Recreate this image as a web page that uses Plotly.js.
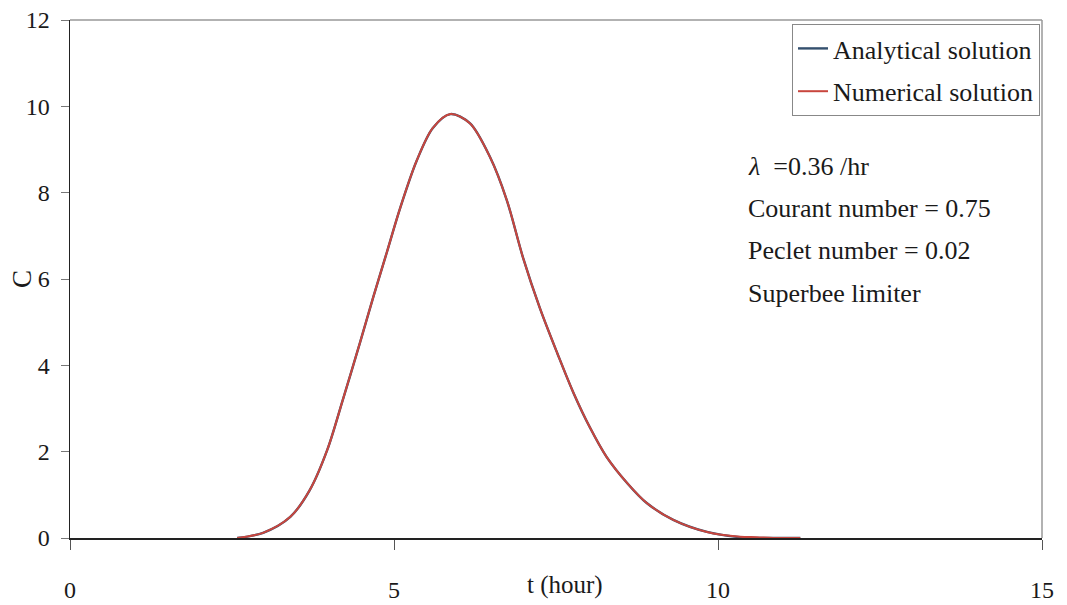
<!DOCTYPE html>
<html>
<head>
<meta charset="utf-8">
<script src="https://cdn.plot.ly/plotly-3.0.1.min.js"></script>
<style>html,body{margin:0;padding:0;background:#fff;}#chart{width:1067px;height:605px;}</style>
</head>
<body>
<div id="chart"></div>
<script>
// Time (hour) and concentration values
const tAnalytical = [2.58, 2.98, 3.40, 3.70, 3.97, 4.21, 4.48, 4.68, 4.89, 5.09, 5.35, 5.60, 5.87, 6.17, 6.48, 6.74, 6.99, 7.25, 7.52, 7.77, 8.02, 8.28, 8.60, 8.90, 9.31, 9.83, 10.34, 10.85, 11.27];
const cAnalytical = [0, 0.12, 0.49, 1.11, 2.04, 3.20, 4.55, 5.58, 6.62, 7.62, 8.74, 9.50, 9.82, 9.61, 8.83, 7.83, 6.50, 5.33, 4.28, 3.36, 2.57, 1.88, 1.27, 0.81, 0.42, 0.14, 0.02, 0, 0];
const tNumerical = [2.58, 2.98, 3.40, 3.70, 3.97, 4.21, 4.48, 4.68, 4.89, 5.09, 5.35, 5.60, 5.87, 6.17, 6.48, 6.74, 6.99, 7.25, 7.52, 7.77, 8.02, 8.28, 8.60, 8.90, 9.31, 9.83, 10.34, 10.60, 10.85, 11.27];
const cNumerical = [0, 0.12, 0.49, 1.11, 2.04, 3.20, 4.55, 5.58, 6.62, 7.62, 8.74, 9.50, 9.82, 9.61, 8.83, 7.83, 6.50, 5.33, 4.28, 3.36, 2.57, 1.88, 1.27, 0.81, 0.42, 0.14, 0.03, 0.02, 0, 0];
const seriesNames = ["Analytical solution", "Numerical solution"];
const xTicks = [0, 5, 10, 15];
const yTicks = [0, 2, 4, 6, 8, 10, 12];
const noteLines = ["<i>λ</i>  =0.36 /hr", "Courant number = 0.75", "Peclet number = 0.02", "Superbee limiter"];

const serif = "Liberation Serif, Times New Roman, serif";

const traces = [
  {x: tAnalytical, y: cAnalytical, name: seriesNames[0], mode: "lines", legendgroup: "a",
   line: {color: "#34506e", width: 2.4, shape: "spline", smoothing: 0.9}},
  {x: tNumerical, y: cNumerical, name: seriesNames[1], mode: "lines", legendgroup: "b",
   line: {color: "#c8463e", width: 2, shape: "spline", smoothing: 0.9}}
];

const plotL = 70, plotR = 1042, plotT = 20, plotB = 538;
const pw = plotR - plotL, ph = plotB - plotT;
const noteY = [166, 208, 250, 293];
const annotations = noteLines.map((txt, i) => ({
  text: txt, xref: "paper", yref: "paper",
  x: (746 - plotL) / pw, y: (plotB - noteY[i]) / ph,
  xanchor: "left", yanchor: "middle", showarrow: false,
  font: {family: serif, size: 26, color: "#1a1a1a"}
}));
annotations.push({text: "t (hour)", xref: "paper", yref: "paper",
  x: (565 - plotL) / pw, y: (plotB - 585) / ph, xanchor: "center", yanchor: "middle",
  showarrow: false, font: {family: serif, size: 25, color: "#1a1a1a"}});
annotations.push({text: "C", xref: "paper", yref: "paper",
  x: (22 - plotL) / pw, y: 0.5, xanchor: "center", yanchor: "middle", textangle: -90,
  showarrow: false, font: {family: serif, size: 27, color: "#1a1a1a"}});

const layout = {
  width: 1067, height: 605,
  margin: {l: plotL, r: 1067 - plotR, t: plotT, b: 605 - plotB},
  paper_bgcolor: "#fff", plot_bgcolor: "#fff",
  showlegend: true,
  legend: {x: (792 - plotL) / pw, y: (plotB - 24) / ph, xanchor: "left", yanchor: "top",
    bgcolor: "#fff", bordercolor: "#888", borderwidth: 1,
    font: {family: serif, size: 26, color: "#1a1a1a"}, tracegroupgap: 6, traceorder: "grouped"},
  xaxis: {range: [0, 15], tickvals: xTicks, ticktext: xTicks.map(String),
    ticks: "outside", ticklen: 10, tickcolor: "#555", tickwidth: 1,
    showline: true, linecolor: "#222", linewidth: 1.5, showgrid: false, zeroline: false,
    ticklabelstandoff: 20, tickfont: {family: serif, size: 24, color: "#1a1a1a"}},
  yaxis: {range: [0, 12], tickvals: yTicks, ticktext: yTicks.map(String),
    ticks: "outside", ticklen: 8, tickcolor: "#777", tickwidth: 1,
    showline: true, linecolor: "#222", linewidth: 1.5, showgrid: false, zeroline: false,
    ticklabelstandoff: 6, tickfont: {family: serif, size: 24, color: "#1a1a1a"}},
  shapes: [
    {type: "line", xref: "paper", yref: "paper", x0: 0, x1: 1, y0: 1, y1: 1, line: {color: "#999", width: 1.5}},
    {type: "line", xref: "paper", yref: "paper", x0: 1, x1: 1, y0: 0, y1: 1, line: {color: "#999", width: 1.5}}
  ],
  annotations: annotations
};

Plotly.newPlot("chart", traces, layout, {staticPlot: true});
</script>
</body>
</html>
